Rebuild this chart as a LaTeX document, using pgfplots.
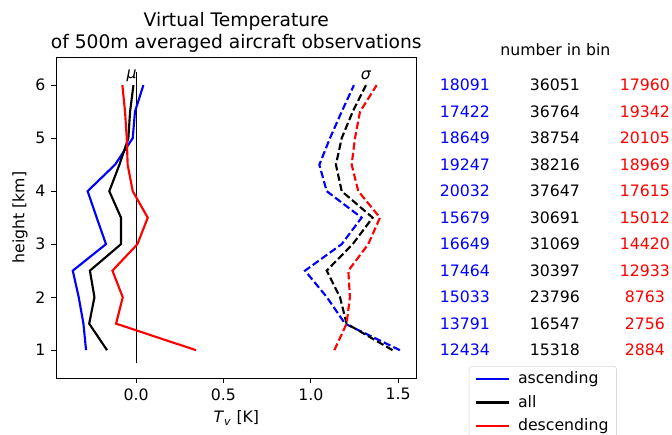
\documentclass[border=0pt]{standalone}
\usepackage{fontspec}
\setmainfont{DejaVu Sans}
\usepackage{pgfplots}
\pgfplotsset{compat=1.18}
\begin{document}
\fontsize{11.8}{14}\selectfont
\begin{tikzpicture}
\begin{axis}[
 name=ax,
 scale only axis, width=270.5pt, height=240.5pt,
 xmin=-0.458, xmax=1.606, ymin=0.475, ymax=6.525,
 xtick={0,0.5,1,1.5}, ytick={1,2,3,4,5,6},
 xticklabels={0.0,0.5,1.0,1.5},
 tick align=outside, xtick pos=bottom, ytick pos=left,
 major tick length=3.75pt,
 /pgf/number format/assume math mode=true,
 tick label style={font=\fontsize{11.8}{14}\selectfont},
 axis line style={line width=0.6pt},
 tick style={line width=0.6pt, black},
 clip=false,
 title={Virtual Temperature\\of 500m averaged aircraft observations},
 title style={at={(axis description cs:0.5,1.053)}, anchor=center, align=center, font=\fontsize{14}{16}\selectfont},
 xlabel={\textit{T}\textsubscript{\textit{v}} [K]},
 xlabel style={at={(axis description cs:0.5,-0.125)}, anchor=center},
 ylabel={height [km]},
 ylabel style={at={(axis description cs:-0.1,0.5)}, anchor=center},
 legend style={at={(axis description cs:1.145,0.037)}, anchor=north west, draw=black!15, rounded corners=2pt,
   font=\fontsize{11.8}{14}\selectfont, row sep=3pt, inner xsep=4pt},
 legend cell align=left,
 legend image code/.code={\draw[#1] (0pt,0pt) -- (25pt,0pt); \path (29pt,0pt);},
]
\addlegendimage{blue, line width=1.6pt}
\addlegendentry{ascending}
\addlegendimage{black, line width=1.6pt}
\addlegendentry{all}
\addlegendimage{red, line width=1.6pt}
\addlegendentry{descending}

% zero line
\addplot[black, line width=0.6pt, forget plot] coordinates {(0,0.75) (0,6.25)};

% mean
\addplot[blue, line width=1.6pt, forget plot] coordinates {
(-0.286,1) (-0.301,1.5) (-0.328,2) (-0.362,2.5) (-0.172,3) (-0.225,3.5) (-0.277,4) (-0.120,4.5) (-0.019,5) (-0.006,5.5) (0.042,6)};
\addplot[black, line width=1.6pt, forget plot] coordinates {
(-0.166,1) (-0.268,1.5) (-0.238,2) (-0.264,2.5) (-0.086,3) (-0.086,3.5) (-0.153,4) (-0.095,4.5) (-0.044,5) (-0.034,5.5) (-0.015,6)};
\addplot[red, line width=1.6pt, forget plot] coordinates {
(0.343,1) (-0.114,1.5) (-0.076,2) (-0.135,2.5) (0.008,3) (0.067,3.5) (-0.019,4) (-0.048,4.5) (-0.053,5) (-0.063,5.5) (-0.078,6)};

% std
\addplot[blue, line width=1.6pt, dash pattern=on 5.5pt off 2.4pt, forget plot] coordinates {
(1.510,1) (1.196,1.5) (1.092,2) (0.967,2.5) (1.177,3) (1.291,3.5) (1.091,4) (1.049,4.5) (1.110,5) (1.177,5.5) (1.247,6)};
\addplot[black, line width=1.6pt, dash pattern=on 5.5pt off 2.4pt, forget plot] coordinates {
(1.468,1) (1.205,1.5) (1.167,2) (1.091,2.5) (1.240,3) (1.354,3.5) (1.177,4) (1.144,4.5) (1.177,5) (1.240,5.5) (1.316,6)};
\addplot[red, line width=1.6pt, dash pattern=on 5.5pt off 2.4pt, forget plot] coordinates {
(1.135,1) (1.205,1.5) (1.224,2) (1.215,2.5) (1.329,3) (1.396,3.5) (1.272,4) (1.234,4.5) (1.253,5) (1.282,5.5) (1.377,6)};

\node at (axis cs:-0.025,6.18) {\textit{μ}};
\node at (axis cs:1.316,6.18) {\textit{σ}};

\node at (axis cs:2.40,6.674) {number in bin};
% table: ascending / all / descending
\node[blue] at (axis cs:1.882,6) {18091}; \node at (axis cs:2.397,6) {36051}; \node[red] at (axis cs:2.912,6) {17960};
\node[blue] at (axis cs:1.882,5.5) {17422}; \node at (axis cs:2.397,5.5) {36764}; \node[red] at (axis cs:2.912,5.5) {19342};
\node[blue] at (axis cs:1.882,5) {18649}; \node at (axis cs:2.397,5) {38754}; \node[red] at (axis cs:2.912,5) {20105};
\node[blue] at (axis cs:1.882,4.5) {19247}; \node at (axis cs:2.397,4.5) {38216}; \node[red] at (axis cs:2.912,4.5) {18969};
\node[blue] at (axis cs:1.882,4) {20032}; \node at (axis cs:2.397,4) {37647}; \node[red] at (axis cs:2.912,4) {17615};
\node[blue] at (axis cs:1.882,3.5) {15679}; \node at (axis cs:2.397,3.5) {30691}; \node[red] at (axis cs:2.912,3.5) {15012};
\node[blue] at (axis cs:1.882,3) {16649}; \node at (axis cs:2.397,3) {31069}; \node[red] at (axis cs:2.912,3) {14420};
\node[blue] at (axis cs:1.882,2.5) {17464}; \node at (axis cs:2.397,2.5) {30397}; \node[red] at (axis cs:2.912,2.5) {12933};
\node[blue] at (axis cs:1.882,2) {15033}; \node at (axis cs:2.397,2) {23796}; \node[red] at (axis cs:2.912,2) {8763};
\node[blue] at (axis cs:1.882,1.5) {13791}; \node at (axis cs:2.397,1.5) {16547}; \node[red] at (axis cs:2.912,1.5) {2756};
\node[blue] at (axis cs:1.882,1) {12434}; \node at (axis cs:2.397,1) {15318}; \node[red] at (axis cs:2.912,1) {2884};
\end{axis}
\pgfresetboundingbox
\useasboundingbox ([shift={(-42pt,-42.75pt)}]ax.south west) rectangle ([shift={(462pt,283.5pt)}]ax.south west);
\end{tikzpicture}
\end{document}
